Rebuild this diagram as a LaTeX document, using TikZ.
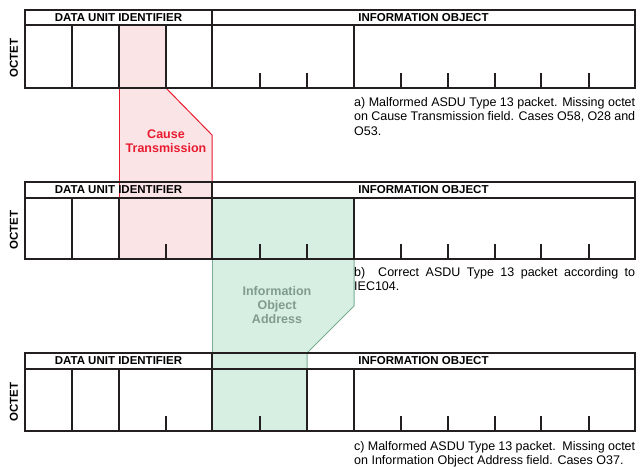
\documentclass[tikz,border=0pt]{standalone}
\usepackage{fontspec}
\setmainfont{Liberation Sans}
\usepackage{xcolor}
\definecolor{FrameGray}{RGB}{35,31,32}
\definecolor{CotRed}{RGB}{232,28,48}
\definecolor{CotPink}{RGB}{251,228,230}
\definecolor{IoaLine}{RGB}{122,172,148}
\definecolor{IoaGreen}{RGB}{215,238,226}
\definecolor{IoaText}{RGB}{128,156,142}
\newcommand{\hdrfont}{\bfseries\fontsize{11.5}{13}\selectfont}
\newcommand{\capfont}{\fontsize{12.5}{14.5}\selectfont}

\begin{document}
\begin{tikzpicture}[x=1pt,y=1pt,yscale=-1,xscale=1,
		frame/.style={FrameGray, line width=1.7pt},
		shadeline/.style={line width=1pt},
		caption/.style={anchor=north west, inner sep=0pt, align=left, font=\capfont}]
		\useasboundingbox (0,0) rectangle (644,466);

		% Shaded area of the Cause Transmission field (pink)
		\fill[CotPink] (119,25) -- (166,25) -- (166,88) -- (212,135) -- (212,259) -- (119,259) -- cycle;
		\draw[shadeline, CotRed] (119,88) -- (119,198);
		\draw[shadeline, CotRed] (166,88) -- (212,135) -- (212,198);

		% Shaded area of the Information Object Address field (green)
		\fill[IoaGreen] (212,198) -- (354,198) -- (354,306) -- (307,353) -- (307,431) -- (212,431) -- cycle;
		\draw[shadeline, IoaLine] (212,259) -- (212,369);
		\draw[shadeline, IoaLine] (354,259) -- (354,306) -- (307,353) -- (307,369);

		% Packet a): outer box, header line and field separators
		\draw[frame] (25,10) rectangle (635,88);
		\draw[frame] (25,25) -- (635,25);
		\draw[frame] (212,10) -- (212,88);
		\draw[frame] (72,25) -- (72,88) (119,25) -- (119,88) (166,25) -- (166,88) (354,25) -- (354,88);
		% octet ticks of packet a)
		\draw[frame] (260,73) -- (260,88) (307,73) -- (307,88) (401,73) -- (401,88) (448,73) -- (448,88);
		\draw[frame] (495,73) -- (495,88) (541,73) -- (541,88) (589,73) -- (589,88);

		% Packet b): outer box, header line and field separators
		\draw[frame] (25,182) rectangle (635,259);
		\draw[frame] (25,198) -- (635,198);
		\draw[frame] (212,182) -- (212,259);
		\draw[frame] (72,198) -- (72,259) (119,198) -- (119,259) (354,198) -- (354,259);
		% octet ticks of packet b)
		\draw[frame] (166,244) -- (166,259) (260,244) -- (260,259) (307,244) -- (307,259) (401,244) -- (401,259);
		\draw[frame] (448,244) -- (448,259) (495,244) -- (495,259) (541,244) -- (541,259) (589,244) -- (589,259);

		% Packet c): outer box, header line and field separators
		\draw[frame] (25,353) rectangle (635,431);
		\draw[frame] (25,369) -- (635,369);
		\draw[frame] (212,353) -- (212,431);
		\draw[frame] (72,369) -- (72,431) (119,369) -- (119,431) (307,369) -- (307,431) (354,369) -- (354,431);
		% octet ticks of packet c)
		\draw[frame] (166,416) -- (166,431) (260,416) -- (260,431) (401,416) -- (401,431) (448,416) -- (448,431);
		\draw[frame] (495,416) -- (495,431) (541,416) -- (541,431) (589,416) -- (589,431);

		% Header words of the three packets
		\draw (118.5,17.5) node (duiA) [font=\hdrfont] {DATA UNIT IDENTIFIER};
		\draw (423.5,17.5) node (ioA) [font=\hdrfont] {INFORMATION OBJECT};
		\draw (118.5,190) node (duiB) [font=\hdrfont] {DATA UNIT IDENTIFIER};
		\draw (423.5,190) node (ioB) [font=\hdrfont] {INFORMATION OBJECT};
		\draw (118.5,361) node (duiC) [font=\hdrfont] {DATA UNIT IDENTIFIER};
		\draw (423.5,361) node (ioC) [font=\hdrfont] {INFORMATION OBJECT};

		% The word "OCTET" left of each packet
		\draw (14,58) node (octA) [rotate=90, font=\hdrfont] {OCTET};
		\draw (14,230) node (octB) [rotate=90, font=\hdrfont] {OCTET};
		\draw (14,402) node (octC) [rotate=90, font=\hdrfont] {OCTET};

		% Names of the shaded fields
		\draw (166,141) node (cot) [align=center, inner sep=0pt, text=CotRed, font=\bfseries\fontsize{12.5}{13.5}\selectfont] {Cause\\Transmission};
		\draw (277,305.5) node (ioa) [align=center, inner sep=0pt, text=IoaText, font=\bfseries\fontsize{12.5}{14}\selectfont] {Information\\Object\\Address};

		% Captions
		\draw (354,97) node (capA) [caption] {\makebox[281pt][s]{a) Malformed ASDU Type 13 packet. Missing octet}\\\makebox[281pt][s]{on Cause Transmission field. Cases O58, O28 and}\\O53.};
		\draw (354,267) node (capB) [caption] {\makebox[281pt][s]{b)\ \ Correct ASDU Type 13 packet according to}\\IEC104.};
		\draw (354,441) node (capC) [caption, font=\fontsize{12.5}{14}\selectfont] {\makebox[281pt][s]{c) Malformed ASDU Type 13 packet.\ \ Missing octet}\\on Information Object Address field. Cases O37.};
	\end{tikzpicture}
\end{document}
